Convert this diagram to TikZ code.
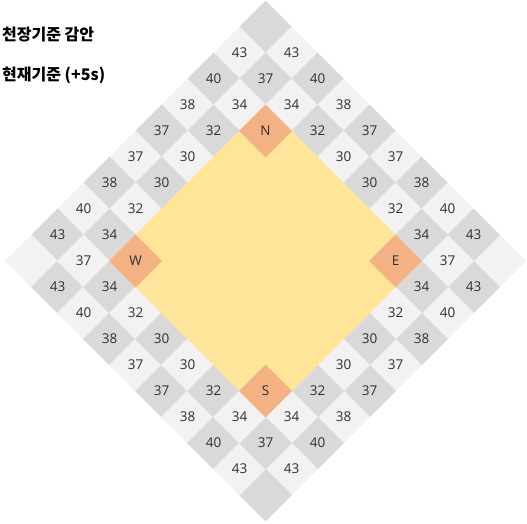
\documentclass[tikz,border=0pt]{standalone}
\usepackage{fontspec}
\setmainfont{Open Sans}
\newfontfamily\kr{Noto Sans CJK KR}
\usetikzlibrary{shapes.geometric}
\definecolor{cdark}{HTML}{D9D9D9}
\definecolor{clight}{HTML}{F2F2F2}
\definecolor{cyel}{HTML}{FFE599}
\definecolor{csal}{HTML}{F4B183}
\definecolor{ctxt}{HTML}{303030}
\tikzset{
  cellbox/.style={shape=diamond, aspect=1, minimum width=52bp, minimum height=52bp,
    inner sep=0pt, outer sep=0pt, line width=0.5pt, text=ctxt,
    font=\fontsize{13.5bp}{15bp}\selectfont},
  titletext/.style={anchor=west, inner sep=0pt, font=\kr\bfseries\fontsize{16bp}{18bp}\selectfont}
}
\newcommand\mycell[3]{%
  \pgfmathtruncatemacro\cpar{mod(#1+#2,2)}%
  \ifnum\cpar=0 \def\cc{cdark}\else\def\cc{clight}\fi
  \node[cellbox, fill=\cc, draw=\cc] (c-#1-#2) at ({265.5+26*(#1-#2)},{27+26*(#1+#2)}) {#3};}
\newcommand\dircell[3]{%
  \node[cellbox, fill=csal, draw=csal] (c-#1-#2) at ({265.5+26*(#1-#2)},{27+26*(#1+#2)}) {#3};}
\begin{document}
\begin{tikzpicture}[x=1bp,y=-1bp]
\useasboundingbox (0,0) rectangle (527,524);
% outer ring
\foreach \k/\v in {0/,1/43,2/40,3/38,4/37,5/37,6/38,7/40,8/43,9/}{
  \mycell{0}{\k}{\v}
  \mycell{9}{\k}{\v}
}
\foreach \k/\v in {1/43,2/40,3/38,4/37,5/37,6/38,7/40,8/43}{
  \mycell{\k}{0}{\v}
  \mycell{\k}{9}{\v}
}
% second ring
\foreach \k/\v in {1/37,2/34,3/32,4/30,5/30,6/32,7/34,8/37}{
  \mycell{1}{\k}{\v}
  \mycell{8}{\k}{\v}
}
\foreach \k/\v in {2/34,3/32,4/30,5/30,6/32,7/34}{
  \mycell{\k}{1}{\v}
  \mycell{\k}{8}{\v}
}
% inner yellow region
\node[shape=diamond, aspect=1, minimum width=312bp, minimum height=312bp, inner sep=0pt,
  fill=cyel, draw=cyel, line width=0.5pt] (center) at (265.5,261) {};
\dircell{2}{2}{N}
\dircell{7}{2}{E}
\dircell{2}{7}{W}
\dircell{7}{7}{S}
% titles
\node[titletext] (t1) at (2,35) {천장기준 감안};
\node[titletext] (t2) at (2,75) {현재기준 (+5s)};
\end{tikzpicture}
\end{document}
